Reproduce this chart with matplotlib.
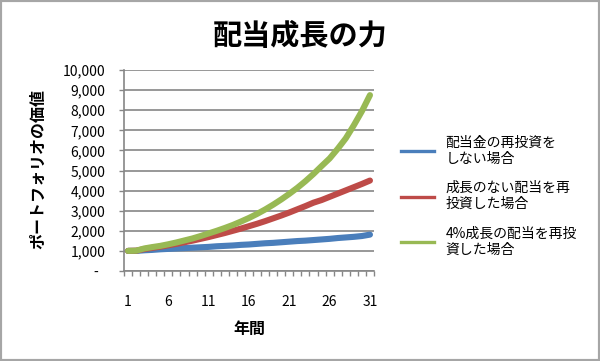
import numpy as np
import matplotlib
matplotlib.use('Agg')
import matplotlib.pyplot as plt
from matplotlib.lines import Line2D
from matplotlib.patches import Rectangle

plt.rcParams['font.family'] = ['Noto Sans CJK JP', 'DejaVu Sans']

years = list(range(1, 32))
no_reinvest = [1000, 1000, 1030, 1050, 1080, 1100, 1120, 1140, 1160, 1180,
               1200, 1230, 1250, 1270, 1300, 1320, 1350, 1380, 1400, 1430,
               1460, 1490, 1510, 1540, 1570, 1600, 1640, 1670, 1700, 1740, 1810]
flat_div = [1000, 1010, 1090, 1150, 1210, 1280, 1350, 1430, 1510, 1600,
            1690, 1790, 1890, 2000, 2110, 2230, 2350, 2480, 2620, 2760,
            2910, 3070, 3230, 3400, 3530, 3690, 3850, 4010, 4170, 4330, 4500]
grow_div = [1000, 1010, 1120, 1190, 1250, 1330, 1420, 1520, 1620, 1740,
            1870, 2000, 2140, 2290, 2460, 2640, 2840, 3060, 3300, 3560,
            3840, 4140, 4470, 4830, 5220, 5600, 6080, 6600, 7250, 7950, 8750]
labels = ['配当金の再投資を\nしない場合', '成長のない配当を再\n投資した場合', '4%成長の配当を再投\n資した場合']
colors = ['#4A7EBB', '#BE4B48', '#98B954']
yticks = list(range(0, 10001, 1000))
ytick_labels = ['-  '] + [f'{v:,}' for v in yticks[1:]]
xticks = [1, 6, 11, 16, 21, 26, 31]

fig = plt.figure(figsize=(6, 3.61), dpi=100)
ax = fig.add_axes([124/600, 1-271/361, 250/600, 201/361])

for s, c in zip([no_reinvest, flat_div, grow_div], colors):
    ax.plot(years, s, color=c, lw=4.4, solid_capstyle='round', solid_joinstyle='round')

ax.set_xlim(0.5, 31.5)
ax.set_ylim(0, 10000)
ax.set_yticks(yticks)
ax.set_yticklabels(ytick_labels)
ax.set_xticks(xticks)
ax.set_xticks(np.arange(0.5, 32, 1), minor=True)
ax.tick_params(axis='x', which='major', length=0, pad=17, labelsize=10)
ax.tick_params(axis='x', which='minor', length=3.5, color='#868686', width=1, direction='out')
ax.tick_params(axis='y', length=3.5, color='#868686', width=1, pad=10, labelsize=10)
ax.grid(axis='y', color='#868686', lw=1.2)
ax.set_axisbelow(True)
for sp in ['top', 'right']:
    ax.spines[sp].set_visible(False)
for sp in ['left', 'bottom']:
    ax.spines[sp].set_color('#868686')
    ax.spines[sp].set_linewidth(1.2)

ax.set_xlabel('年間', fontsize=11.5, fontweight='bold', labelpad=9)
fig.text(38/600, 1-169/361, 'ポートフォリオの価値', rotation=90, ha='center', va='center',
         fontsize=11.5, fontweight='bold')
fig.text(0.5, 1-36/361, '配当成長の力', ha='center', va='center', fontsize=21, fontweight='bold')

handles = [Line2D([], [], color=c, lw=2.4) for c in colors]
fig.legend(handles, labels, loc='center left', bbox_to_anchor=(394/600, 1-196/361),
           frameon=False, fontsize=10, handlelength=2.4, handletextpad=0.8,
           labelspacing=1.1, borderpad=0)

fig.patches.append(Rectangle((0, 0), 1, 1, transform=fig.transFigure, fill=False,
                             edgecolor='#A6A6A6', lw=3))

plt.savefig('out.png', dpi=100)
